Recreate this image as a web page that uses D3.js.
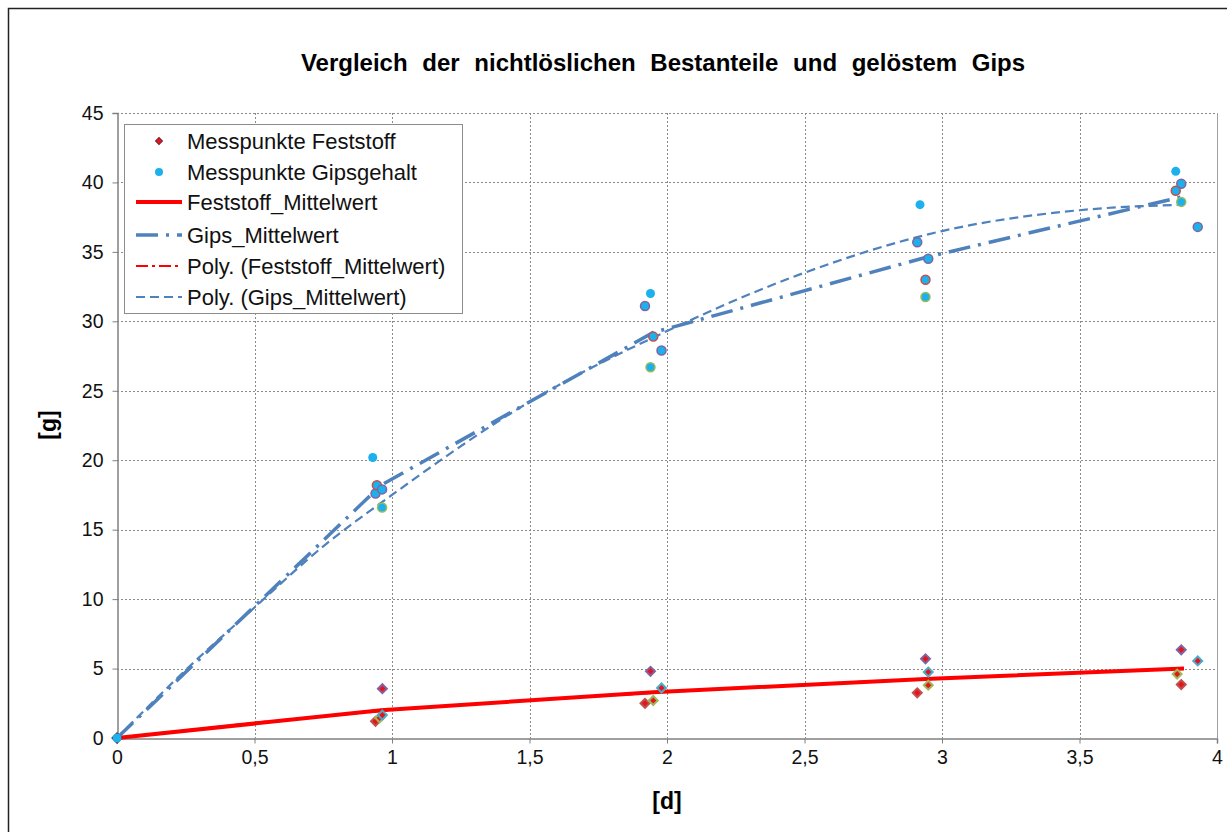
<!DOCTYPE html>
<html>
<head>
<meta charset="utf-8">
<script src="https://cdn.jsdelivr.net/npm/d3@7"></script>
<style>
  body { margin: 0; background: #fff; }
  svg { font-family: "Liberation Sans", Arial, sans-serif; }
</style>
</head>
<body>
<svg width="1227" height="832"></svg>
<script>
//	data
var title = "Vergleich der nichtlöslichen Bestanteile und gelöstem Gips";
var xTicks = [0, 0.5, 1, 1.5, 2, 2.5, 3, 3.5, 4];
var yTicks = [0, 5, 10, 15, 20, 25, 30, 35, 40, 45];

// Messpunkte Feststoff [d, g] and the run each point belongs to
var feststoffX = [0, 0.94, 0.955, 0.965, 0.965, 1.92, 1.95, 1.98, 1.94, 2.91, 2.95, 2.95, 2.94, 3.87, 3.855, 3.93, 3.87];
var feststoffY = [0, 1.2, 1.45, 1.65, 3.55, 2.5, 2.7, 3.6, 4.8, 3.25, 3.8, 4.75, 5.7, 3.85, 4.6, 5.55, 6.35];
var feststoffRun = [0, 1, 3, 4, 2, 1, 3, 4, 2, 1, 3, 4, 2, 1, 3, 4, 2];

// Messpunkte Gipsgehalt
var gipsX = [0, 0.93, 0.94, 0.945, 0.964, 0.964, 1.94, 1.92, 1.95, 1.98, 1.94, 2.92, 2.91, 2.95, 2.94, 2.94, 3.85, 3.87, 3.85, 3.87, 3.93];
var gipsY = [0, 20.2, 17.6, 18.2, 17.9, 16.6, 32.0, 31.1, 28.9, 27.9, 26.7, 38.4, 35.7, 34.5, 33.0, 31.75, 40.8, 39.9, 39.4, 38.6, 36.8];
var gipsRun = [0, 0, 2, 1, 2, 3, 0, 2, 1, 2, 3, 0, 2, 2, 1, 3, 0, 2, 1, 3, 2];

// Mittelwerte
var meanX = [0, 0.96, 1.95, 2.94, 3.88];
var feststoffMean = [0, 2.0, 3.3, 4.25, 5.0];
var gipsMean = [0, 18.2, 29.2, 34.6, 39.0];

// polynomial trend lines
var polyX = [0, 0.25, 0.5, 0.75, 1, 1.5, 2, 2.5, 3, 3.5, 3.88];
var polyFeststoff = [0, 0.55, 1.1, 1.55, 2.0, 2.7, 3.3, 3.85, 4.3, 4.7, 5.0];
var polyGips = [0, 4.9, 9.4, 13.8, 17.5, 24.2, 29.3, 33.5, 36.5, 38.0, 38.4];

var legendLabels = ["Messpunkte Feststoff", "Messpunkte Gipsgehalt", "Feststoff_Mittelwert",
    "Gips_Mittelwert", "Poly. (Feststoff_Mittelwert)", "Poly. (Gips_Mittelwert)"];

var red = "#ff0000", blue = "#4f81bd", cyan = "#1cb0ec";
var ringColors = ["none", "#c0504d", "#8064a2", "#9bbb59", "#4bacc6"];

var svg = d3.select("svg");
var W = 1227, H = 832;
var plot = {left: 117, right: 1217, top: 113, bottom: 738};

var loc = d3.formatLocale({decimal: ",", thousands: ".", grouping: [3], currency: ["", "€"]});
var fmt = loc.format("~g");

// outer chart frame
svg.append("rect").attr("x", 8.5).attr("y", 8.5).attr("width", W).attr("height", H)
    .attr("fill", "#fff").attr("stroke", "#222").attr("stroke-width", 1.5);

var x = d3.scaleLinear().domain([0, 4]).range([plot.left, plot.right]);
var y = d3.scaleLinear().domain([0, 45]).range([plot.bottom, plot.top]);

// grid
var grid = svg.append("g").attr("stroke", "#8a8a8a").attr("stroke-dasharray", "2,2").attr("stroke-width", 1);
grid.selectAll(".gy").data(yTicks.slice(1)).enter().append("line")
    .attr("x1", plot.left).attr("x2", plot.right)
    .attr("y1", d => Math.round(y(d)) + 0.5).attr("y2", d => Math.round(y(d)) + 0.5);
grid.selectAll(".gx").data(xTicks.slice(1)).enter().append("line")
    .attr("y1", plot.top).attr("y2", plot.bottom)
    .attr("x1", d => Math.round(x(d)) + 0.5).attr("x2", d => Math.round(x(d)) + 0.5);

// plot area right edge
svg.append("line").attr("x1", plot.right + 0.5).attr("x2", plot.right + 0.5)
    .attr("y1", plot.top).attr("y2", plot.bottom).attr("stroke", "#a0a0a0");

// axes
var xAxis = svg.append("g").attr("transform", "translate(0," + (plot.bottom + 0.5) + ")")
    .call(d3.axisBottom(x).tickValues(xTicks).tickFormat(fmt).tickSize(5).tickPadding(7));
var yAxis = svg.append("g").attr("transform", "translate(" + (plot.left + 0.5) + ",0)")
    .call(d3.axisLeft(y).tickValues(yTicks).tickSize(5).tickPadding(9));
[xAxis, yAxis].forEach(function(a) {
    a.select(".domain").attr("stroke", "#808080").attr("stroke-width", 1.5);
    a.selectAll(".tick line").attr("stroke", "#808080");
    a.selectAll(".tick text").attr("font-size", 19.5).attr("fill", "#111")
        .attr("font-family", "Liberation Sans, Arial, sans-serif");
});

// lines
var lineOf = function(xs) {
    return d3.line().x((d, i) => x(xs[i])).y(d => y(d));
};
var smooth = function(xs) {
    return d3.line().curve(d3.curveMonotoneX).x((d, i) => x(xs[i])).y(d => y(d));
};

svg.append("path").attr("d", lineOf(meanX)(feststoffMean))
    .attr("fill", "none").attr("stroke", red).attr("stroke-width", 4);
svg.append("path").attr("d", smooth(polyX)(polyFeststoff))
    .attr("fill", "none").attr("stroke", red).attr("stroke-width", 2)
    .attr("stroke-dasharray", "12,4,3,4");
svg.append("path").attr("d", lineOf(meanX)(gipsMean))
    .attr("fill", "none").attr("stroke", blue).attr("stroke-width", 3.5)
    .attr("stroke-dasharray", "22,8,3,8");
svg.append("path").attr("d", smooth(polyX)(polyGips))
    .attr("fill", "none").attr("stroke", blue).attr("stroke-width", 2.2)
    .attr("stroke-dasharray", "9,5");

// markers: square turned by 45 degrees gives an even diamond
var diamond = d3.symbol().type(d3.symbolSquare).size(40);
svg.append("g").selectAll("path").data(feststoffY).enter().append("path")
    .attr("d", diamond)
    .attr("transform", (d, i) => "translate(" + x(feststoffX[i]) + "," + y(d) + ") rotate(45)")
    .attr("fill", "#e8141c")
    .attr("stroke", (d, i) => feststoffRun[i] ? ringColors[feststoffRun[i]] : "#7a1f2a")
    .attr("stroke-width", 2);

svg.append("g").selectAll("circle").data(gipsY).enter().append("circle")
    .attr("cx", (d, i) => x(gipsX[i])).attr("cy", d => y(d)).attr("r", 4.5)
    .attr("fill", cyan)
    .attr("stroke", (d, i) => ringColors[gipsRun[i]])
    .attr("stroke-width", 1.5);

// legend
var lg = svg.append("g");
lg.append("rect").attr("x", 124.5).attr("y", 124.5).attr("width", 338).attr("height", 189)
    .attr("fill", "#fff").attr("stroke", "#8c8c8c");
var rowY = [141, 172, 202, 235, 266, 297];
legendLabels.forEach(function(t, i) {
    var yy = rowY[i];
    lg.append("text").attr("x", 187).attr("y", yy).attr("dy", "0.35em")
        .attr("font-size", 22).attr("fill", "#111").text(t);
    if (i === 0) {
        lg.append("path").attr("d", d3.symbol().type(d3.symbolSquare).size(24))
            .attr("transform", "translate(159," + yy + ") rotate(45)")
            .attr("fill", "#e8141c").attr("stroke", "#7a1f2a");
    } else if (i === 1) {
        lg.append("circle").attr("cx", 159).attr("cy", yy).attr("r", 4).attr("fill", cyan);
    } else {
        var styles = [
            {c: red, w: 4, d: null},
            {c: blue, w: 3.5, d: "22,8,3,8"},
            {c: red, w: 2, d: "12,4,3,4"},
            {c: blue, w: 2.2, d: "9,5"}
        ][i - 2];
        lg.append("line").attr("x1", 136).attr("x2", 182).attr("y1", yy).attr("y2", yy)
            .attr("stroke", styles.c).attr("stroke-width", styles.w)
            .attr("stroke-dasharray", styles.d);
    }
});

// title and axis titles
svg.append("text").attr("x", 663).attr("y", 71).attr("text-anchor", "middle")
    .attr("font-size", 24).attr("font-weight", "bold").attr("word-spacing", 8).text(title);
svg.append("text").attr("x", 667).attr("y", 809).attr("text-anchor", "middle")
    .attr("font-size", 23).attr("font-weight", "bold").text("[d]");
svg.append("text").attr("transform", "translate(56,425) rotate(-90)").attr("text-anchor", "middle")
    .attr("font-size", 23).attr("font-weight", "bold").text("[g]");
</script>
</body>
</html>
